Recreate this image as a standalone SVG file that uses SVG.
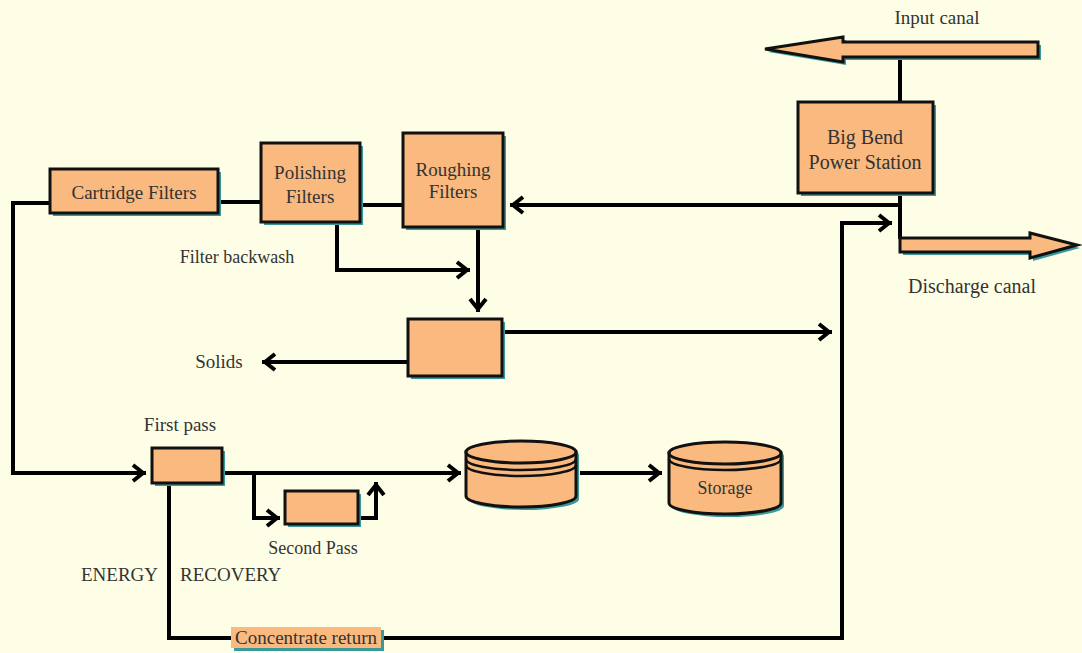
<svg xmlns="http://www.w3.org/2000/svg" width="1082" height="653" viewBox="0 0 1082 653">
  <style>
    .bg { fill: #FEFEE6; }
    .box { fill: #F9B97F; stroke: #111; stroke-width: 3; }
    .shadow { fill: #3A9A9A; }
    .canal { fill: #F9B97F; stroke: #111; stroke-width: 3; stroke-linejoin: miter; }
    .wire { fill: none; stroke: #000; stroke-width: 4; stroke-linejoin: miter; }
    .band { fill: none; stroke: #111; stroke-width: 2.5; }
    .lbl { font-family: "Liberation Serif", "Times New Roman", serif; font-size: 19px; fill: #333; text-anchor: middle; }
    .lbl-l { font-family: "Liberation Serif", "Times New Roman", serif; font-size: 19px; fill: #333; }
  </style>
  <defs>
    <marker id="ah" markerUnits="userSpaceOnUse" markerWidth="24" markerHeight="24" viewBox="-18 -12 24 24" refX="0" refY="0" orient="auto">
      <path d="M-13,-8 L-3,0 L-13,8" fill="none" stroke="#000" stroke-width="4"/>
    </marker>
  </defs>

  <rect class="bg" x="0" y="0" width="1082" height="653"/>

  <!-- flow lines -->
  <g id="connectors">
    <path class="wire" d="M900,57 L900,102"/>
    <path class="wire" d="M900,193 L900,239"/>
    <path class="wire" d="M900,205 L510,205" marker-end="url(#ah)"/>
    <path class="wire" d="M218,202 L261,202"/>
    <path class="wire" d="M360,205 L403,205"/>
    <path class="wire" d="M50,203 L13,203 L13,473 L146,473" marker-end="url(#ah)"/>
    <path class="wire" d="M337,222 L337,270 L470,270" marker-end="url(#ah)"/>
    <path class="wire" d="M478,227 L478,312" marker-end="url(#ah)"/>
    <path class="wire" d="M408,362 L262,362" marker-end="url(#ah)"/>
    <path class="wire" d="M502,332 L832,332" marker-end="url(#ah)"/>
    <path class="wire" d="M222,473 L461,473" marker-end="url(#ah)"/>
    <path class="wire" d="M254,473 L254,518 L280,518" marker-end="url(#ah)"/>
    <path class="wire" d="M358,518 L376,518 L376,482" marker-end="url(#ah)"/>
    <path class="wire" d="M580,473 L662,473" marker-end="url(#ah)"/>
    <path class="wire" d="M169,483 L169,638 L842,638 L842,223 L892,223" marker-end="url(#ah)"/>
  </g>

  <!-- canals -->
  <g id="input-canal">
    <polygon class="shadow" points="1041,45 846,45 846,40 768,52 846,65 846,60 1041,60"/>
    <polygon class="canal" points="1038,42 843,42 843,37 765,49 843,62 843,57 1038,57"/>
    <text class="lbl" x="937" y="24" font-size="20">Input canal</text>
  </g>
  <g id="discharge-canal">
    <polygon class="shadow" points="903,241 1033,241 1033,236 1080,248 1033,261 1033,255 903,255"/>
    <polygon class="canal" points="900,238 1030,238 1030,233 1077,245 1030,258 1030,252 900,252"/>
    <text class="lbl" x="972" y="293" style="font-size:20px">Discharge canal</text>
  </g>

  <g id="power-station">
    <rect class="shadow" x="801" y="105" width="135" height="91"/>
    <rect class="box" x="798" y="102" width="135" height="91"/>
    <text class="lbl" x="865" y="144" style="font-size:20px">Big Bend</text>
    <text class="lbl" x="865" y="169" style="font-size:20px">Power Station</text>
  </g>

  <g id="cartridge-filters">
    <rect class="shadow" x="53" y="172" width="168" height="44"/>
    <rect class="box" x="50" y="169" width="168" height="44"/>
    <text class="lbl" x="134" y="199">Cartridge Filters</text>
  </g>

  <g id="polishing-filters">
    <rect class="shadow" x="264" y="146" width="99" height="79"/>
    <rect class="box" x="261" y="143" width="99" height="79"/>
    <text class="lbl" x="310" y="179">Polishing</text>
    <text class="lbl" x="310" y="203">Filters</text>
  </g>

  <g id="roughing-filters">
    <rect class="shadow" x="406" y="136" width="100" height="94"/>
    <rect class="box" x="403" y="133" width="100" height="94"/>
    <text class="lbl" x="453" y="176">Roughing</text>
    <text class="lbl" x="453" y="198">Filters</text>
  </g>

  <g id="filter-backwash-label">
    <text class="lbl" x="237" y="263" style="font-size:18px">Filter backwash</text>
  </g>

  <g id="separator">
    <rect class="shadow" x="411" y="322" width="94" height="57"/>
    <rect class="box" x="408" y="319" width="94" height="57"/>
  </g>

  <g id="solids-label">
    <text class="lbl" x="219" y="368">Solids</text>
  </g>

  <g id="first-pass">
    <rect class="shadow" x="155" y="451" width="70" height="35"/>
    <rect class="box" x="152" y="448" width="70" height="35"/>
    <text class="lbl" x="180" y="431">First pass</text>
  </g>

  <g id="second-pass">
    <rect class="shadow" x="288" y="494" width="73" height="33"/>
    <rect class="box" x="285" y="491" width="73" height="33"/>
    <text class="lbl" x="313" y="554" style="font-size:18px">Second Pass</text>
  </g>

  <g id="energy-recovery-label">
    <text class="lbl-l" y="581"><tspan x="81">ENERGY</tspan><tspan x="180">RECOVERY</tspan></text>
  </g>

  <g id="product-tank">
    <path class="shadow" d="M469,455 L469,499 A55,11 0 0 0 579,499 L579,455 A55,11 0 0 0 469,455 Z"/>
    <path class="box" d="M466,452 L466,496 A55,11 0 0 0 576,496 L576,452 Z"/>
    <ellipse class="box" cx="521" cy="452" rx="55" ry="11"/>
    <path class="band" d="M466,459 A55,11 0 0 0 576,459"/>
    <path class="band" d="M466,465 A55,11 0 0 0 576,465"/>
  </g>

  <g id="storage">
    <path class="shadow" d="M672,456 L672,506 A56,11 0 0 0 784,506 L784,456 A56,11 0 0 0 672,456 Z"/>
    <path class="box" d="M669,453 L669,503 A56,11 0 0 0 781,503 L781,453 Z"/>
    <ellipse class="box" cx="725" cy="453" rx="56" ry="11"/>
    <path class="band" d="M669,459 A56,11 0 0 0 781,459"/>
    <text class="lbl" x="725" y="494" style="font-size:18px">Storage</text>
  </g>

  <g id="concentrate-return">
    <rect class="shadow" x="234" y="630" width="150" height="21"/>
    <rect x="231" y="627" width="150" height="21" fill="#F9B97F"/>
    <text class="lbl" x="306" y="644">Concentrate return</text>
  </g>
</svg>
